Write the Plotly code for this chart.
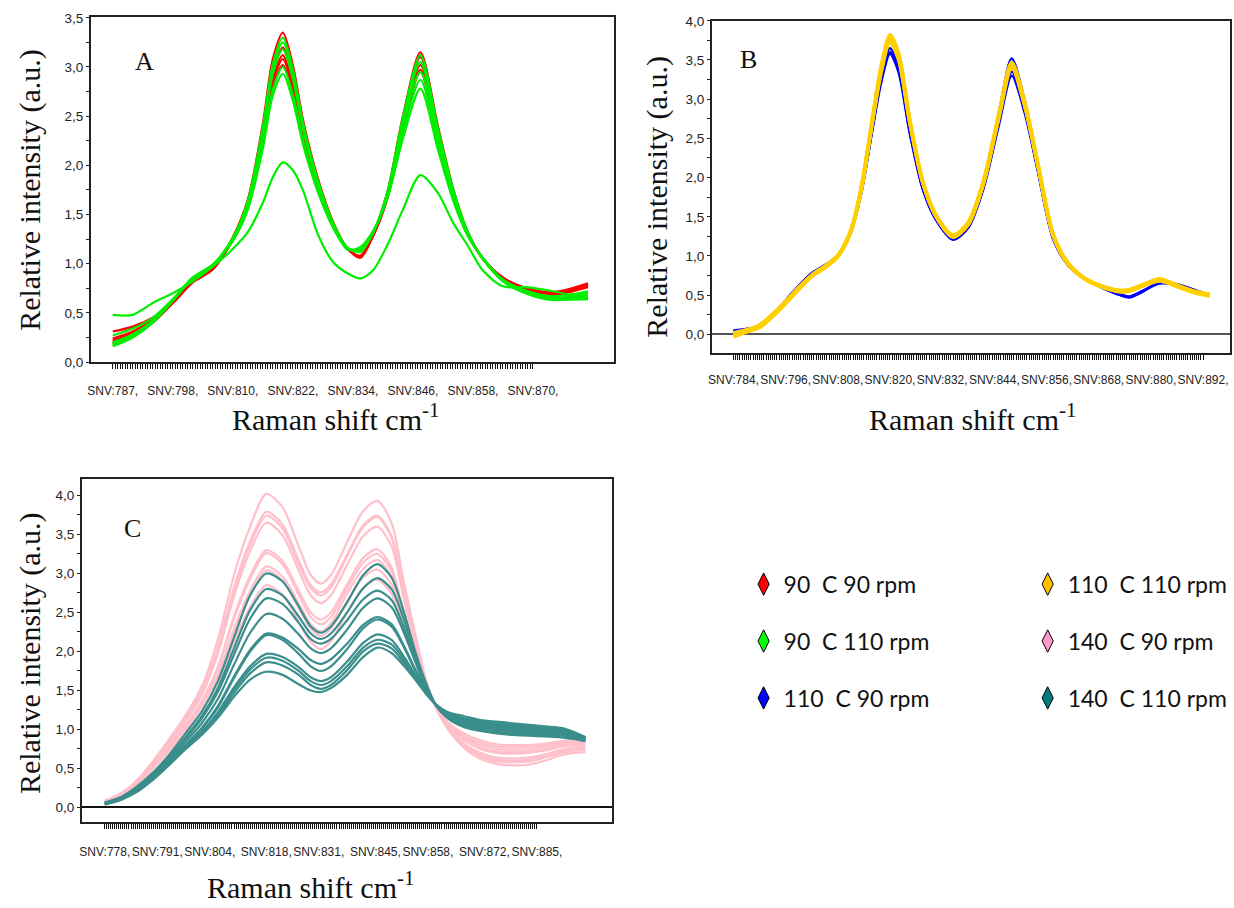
import plotly.graph_objects as go

# ---------------- Panel A data (90 C) ----------------
wn_A = [787, 791, 795, 799, 803, 807, 811, 814, 817, 819, 821, 823, 825, 828, 831, 834, 836.5,
        839, 842, 845, 848.5, 852, 855, 858, 861, 865, 870, 875, 882]
A_90C_90rpm = [
    [0.31, 0.36, 0.45, 0.60, 0.82, 0.95, 1.27, 1.65, 2.42, 3.08, 3.35, 3.02, 2.47, 1.87, 1.43, 1.15, 1.08, 1.29, 1.75, 2.50, 3.15, 2.40, 1.77, 1.32, 1.05, 0.86, 0.74, 0.70, 0.78],
    [0.22, 0.29, 0.41, 0.60, 0.81, 0.94, 1.25, 1.61, 2.33, 2.94, 3.20, 2.89, 2.38, 1.82, 1.41, 1.15, 1.07, 1.29, 1.73, 2.47, 3.10, 2.36, 1.75, 1.31, 1.05, 0.84, 0.73, 0.69, 0.77],
    [0.20, 0.27, 0.40, 0.60, 0.82, 0.95, 1.25, 1.59, 2.28, 2.87, 3.12, 2.82, 2.33, 1.79, 1.40, 1.15, 1.06, 1.28, 1.71, 2.41, 3.02, 2.31, 1.73, 1.30, 1.05, 0.85, 0.75, 0.71, 0.80],
    [0.18, 0.26, 0.40, 0.61, 0.83, 0.96, 1.24, 1.58, 2.26, 2.84, 3.08, 2.79, 2.31, 1.78, 1.39, 1.15, 1.07, 1.28, 1.69, 2.38, 2.97, 2.28, 1.71, 1.30, 1.05, 0.84, 0.72, 0.68, 0.76],
    [0.24, 0.31, 0.43, 0.62, 0.82, 0.95, 1.24, 1.57, 2.22, 2.79, 3.02, 2.74, 2.27, 1.76, 1.38, 1.15, 1.08, 1.28, 1.68, 2.37, 2.95, 2.27, 1.70, 1.29, 1.05, 0.85, 0.74, 0.70, 0.79],
]
A_90C_110rpm = [
    [0.27, 0.34, 0.45, 0.64, 0.85, 0.98, 1.26, 1.64, 2.39, 3.03, 3.30, 2.98, 2.44, 1.85, 1.42, 1.16, 1.12, 1.31, 1.75, 2.49, 3.12, 2.38, 1.77, 1.32, 1.05, 0.84, 0.72, 0.67, 0.72],
    [0.20, 0.28, 0.42, 0.63, 0.85, 0.98, 1.26, 1.62, 2.36, 2.99, 3.25, 2.94, 2.41, 1.83, 1.41, 1.16, 1.13, 1.31, 1.73, 2.45, 3.05, 2.34, 1.75, 1.31, 1.05, 0.83, 0.71, 0.65, 0.70],
    [0.17, 0.26, 0.41, 0.63, 0.86, 0.99, 1.25, 1.61, 2.32, 2.93, 3.18, 2.88, 2.37, 1.81, 1.40, 1.15, 1.14, 1.32, 1.72, 2.41, 2.95, 2.29, 1.73, 1.31, 1.05, 0.83, 0.70, 0.64, 0.68],
    [0.16, 0.25, 0.40, 0.62, 0.85, 0.98, 1.24, 1.56, 2.21, 2.77, 3.00, 2.72, 2.26, 1.75, 1.38, 1.15, 1.15, 1.32, 1.69, 2.33, 2.87, 2.22, 1.68, 1.29, 1.05, 0.82, 0.69, 0.63, 0.66],
    [0.19, 0.28, 0.42, 0.63, 0.86, 0.99, 1.23, 1.55, 2.17, 2.71, 2.93, 2.66, 2.22, 1.73, 1.37, 1.14, 1.17, 1.33, 1.68, 2.27, 2.78, 2.16, 1.65, 1.28, 1.06, 0.83, 0.70, 0.64, 0.64],
    [0.48, 0.48, 0.60, 0.70, 0.82, 0.97, 1.15, 1.32, 1.62, 1.88, 2.03, 1.95, 1.75, 1.30, 1.02, 0.90, 0.85, 0.93, 1.20, 1.55, 1.90, 1.72, 1.42, 1.18, 0.93, 0.77, 0.76, 0.72, 0.64],
]
labels_A = ["SNV:787,", "SNV:798,", "SNV:810,", "SNV:822,", "SNV:834,", "SNV:846,", "SNV:858,", "SNV:870,"]

# ---------------- Panel B data (110 C) ----------------
wn_B = [784, 787, 790, 794, 798, 802, 805, 808, 811, 813.5, 816, 818, 820, 822, 824.5, 827.5, 830.5,
        834.5, 838, 841.5, 845, 848, 851, 854, 857.5, 861, 865, 869, 873, 875, 878, 882, 886, 890, 893.5]
B_110C_90rpm = [
    [0.05, 0.07, 0.11, 0.31, 0.56, 0.78, 0.88, 1.01, 1.31, 1.86, 2.68, 3.30, 3.65, 3.40, 2.62, 1.88, 1.48, 1.22, 1.39, 1.94, 2.82, 3.52, 2.98, 2.17, 1.25, 0.89, 0.70, 0.59, 0.50, 0.48, 0.55, 0.66, 0.63, 0.56, 0.49],
    [0.04, 0.07, 0.10, 0.30, 0.55, 0.78, 0.88, 1.00, 1.30, 1.84, 2.64, 3.25, 3.60, 3.36, 2.60, 1.87, 1.47, 1.21, 1.37, 1.88, 2.70, 3.35, 2.86, 2.10, 1.23, 0.88, 0.70, 0.59, 0.50, 0.47, 0.54, 0.66, 0.64, 0.57, 0.50],
    [0.03, 0.06, 0.10, 0.30, 0.55, 0.77, 0.87, 1.00, 1.30, 1.83, 2.62, 3.22, 3.58, 3.34, 2.58, 1.86, 1.47, 1.21, 1.36, 1.86, 2.66, 3.30, 2.82, 2.08, 1.22, 0.88, 0.70, 0.59, 0.51, 0.48, 0.55, 0.65, 0.63, 0.56, 0.50],
]
B_110C_110rpm = [
    [-0.03, 0.03, 0.09, 0.29, 0.52, 0.74, 0.85, 0.99, 1.31, 1.90, 2.77, 3.43, 3.82, 3.58, 2.76, 1.96, 1.53, 1.26, 1.42, 1.95, 2.80, 3.47, 2.96, 2.18, 1.28, 0.90, 0.70, 0.60, 0.55, 0.56, 0.62, 0.70, 0.62, 0.54, 0.50],
    [0.00, 0.05, 0.10, 0.30, 0.53, 0.75, 0.86, 1.00, 1.32, 1.89, 2.75, 3.40, 3.79, 3.55, 2.74, 1.95, 1.52, 1.25, 1.41, 1.94, 2.78, 3.44, 2.94, 2.17, 1.27, 0.90, 0.71, 0.61, 0.56, 0.57, 0.63, 0.70, 0.62, 0.55, 0.51],
    [0.02, 0.06, 0.12, 0.31, 0.54, 0.76, 0.87, 1.01, 1.33, 1.88, 2.73, 3.37, 3.76, 3.52, 2.72, 1.94, 1.51, 1.24, 1.40, 1.93, 2.77, 3.42, 2.92, 2.16, 1.26, 0.89, 0.70, 0.60, 0.54, 0.55, 0.61, 0.68, 0.61, 0.53, 0.49],
    [-0.01, 0.04, 0.09, 0.28, 0.51, 0.74, 0.85, 0.99, 1.31, 1.87, 2.72, 3.35, 3.73, 3.50, 2.72, 1.95, 1.53, 1.27, 1.43, 1.96, 2.79, 3.45, 2.95, 2.18, 1.28, 0.91, 0.71, 0.61, 0.56, 0.57, 0.63, 0.71, 0.63, 0.55, 0.51],
    [0.01, 0.05, 0.11, 0.30, 0.53, 0.75, 0.86, 1.00, 1.32, 1.91, 2.76, 3.41, 3.80, 3.56, 2.75, 1.96, 1.52, 1.26, 1.41, 1.92, 2.75, 3.40, 2.91, 2.15, 1.27, 0.90, 0.70, 0.60, 0.55, 0.56, 0.62, 0.69, 0.61, 0.54, 0.50],
]
labels_B = ["SNV:784,", "SNV:796,", "SNV:808,", "SNV:820,", "SNV:832,", "SNV:844,", "SNV:856,", "SNV:868,", "SNV:880,", "SNV:892,"]

# ---------------- Panel C data (140 C) ----------------
wn_C = [778, 782, 786, 790, 794, 798, 802, 806, 810, 814, 818, 822, 826, 829, 831.5, 834, 838, 842, 845.5,
        849, 852, 855, 857.5, 860, 863, 867, 871, 875, 879, 883, 887, 891, 894, 897]
C_140C_90rpm = [
    [0.08, 0.18, 0.35, 0.60, 0.88, 1.18, 1.55, 2.15, 2.98, 3.60, 4.02, 3.85, 3.35, 2.98, 2.87, 2.98, 3.40, 3.80, 3.93, 3.65, 2.90, 2.20, 1.65, 1.28, 1.00, 0.76, 0.62, 0.56, 0.54, 0.55, 0.60, 0.67, 0.70, 0.71],
    [0.08, 0.17, 0.34, 0.58, 0.85, 1.14, 1.49, 2.05, 2.82, 3.41, 3.79, 3.63, 3.17, 2.85, 2.76, 2.86, 3.24, 3.62, 3.74, 3.48, 2.78, 2.13, 1.62, 1.28, 1.01, 0.78, 0.65, 0.59, 0.58, 0.59, 0.64, 0.70, 0.73, 0.74],
    [0.07, 0.16, 0.33, 0.57, 0.84, 1.13, 1.47, 2.02, 2.78, 3.37, 3.74, 3.58, 3.12, 2.81, 2.72, 2.82, 3.22, 3.60, 3.72, 3.46, 2.76, 2.12, 1.61, 1.28, 1.02, 0.80, 0.67, 0.61, 0.60, 0.61, 0.66, 0.72, 0.75, 0.76],
    [0.08, 0.17, 0.33, 0.56, 0.82, 1.10, 1.44, 1.97, 2.71, 3.29, 3.65, 3.49, 3.04, 2.72, 2.62, 2.72, 3.11, 3.48, 3.60, 3.35, 2.68, 2.08, 1.60, 1.28, 1.03, 0.82, 0.70, 0.64, 0.63, 0.64, 0.68, 0.74, 0.77, 0.78],
    [0.07, 0.16, 0.32, 0.54, 0.78, 1.04, 1.35, 1.80, 2.45, 2.97, 3.30, 3.16, 2.78, 2.50, 2.41, 2.50, 2.86, 3.20, 3.31, 3.08, 2.50, 1.98, 1.57, 1.29, 1.05, 0.86, 0.75, 0.70, 0.69, 0.70, 0.73, 0.78, 0.80, 0.80],
    [0.09, 0.18, 0.34, 0.55, 0.79, 1.05, 1.36, 1.79, 2.42, 2.93, 3.26, 3.12, 2.73, 2.44, 2.35, 2.44, 2.81, 3.14, 3.25, 3.03, 2.46, 1.96, 1.56, 1.29, 1.06, 0.88, 0.77, 0.72, 0.71, 0.72, 0.75, 0.80, 0.82, 0.82],
    [0.07, 0.15, 0.31, 0.52, 0.76, 1.01, 1.31, 1.71, 2.29, 2.78, 3.09, 2.96, 2.62, 2.35, 2.26, 2.36, 2.74, 3.06, 3.17, 2.96, 2.42, 1.93, 1.55, 1.29, 1.07, 0.90, 0.80, 0.75, 0.74, 0.75, 0.78, 0.82, 0.84, 0.84],
    [0.08, 0.17, 0.32, 0.53, 0.76, 1.00, 1.30, 1.69, 2.26, 2.74, 3.04, 2.91, 2.56, 2.29, 2.20, 2.29, 2.64, 2.95, 3.05, 2.86, 2.36, 1.90, 1.54, 1.29, 1.08, 0.92, 0.83, 0.78, 0.77, 0.78, 0.80, 0.84, 0.85, 0.85],
    [0.07, 0.15, 0.30, 0.50, 0.73, 0.96, 1.23, 1.60, 2.12, 2.57, 2.85, 2.73, 2.38, 2.12, 2.03, 2.13, 2.50, 2.82, 2.92, 2.74, 2.28, 1.86, 1.52, 1.29, 1.09, 0.95, 0.86, 0.81, 0.80, 0.80, 0.82, 0.85, 0.86, 0.86],
]
C_140C_110rpm = [
    [0.06, 0.13, 0.27, 0.45, 0.68, 0.95, 1.23, 1.62, 2.18, 2.72, 3.00, 2.90, 2.58, 2.32, 2.24, 2.32, 2.63, 2.98, 3.12, 2.95, 2.52, 1.98, 1.60, 1.31, 1.14, 1.03, 0.98, 0.95, 0.93, 0.92, 0.91, 0.90, 0.88, 0.85],
    [0.05, 0.12, 0.25, 0.43, 0.65, 0.90, 1.17, 1.53, 2.04, 2.53, 2.80, 2.72, 2.45, 2.23, 2.16, 2.23, 2.50, 2.81, 2.94, 2.80, 2.42, 1.93, 1.58, 1.31, 1.15, 1.05, 1.00, 0.97, 0.95, 0.94, 0.93, 0.92, 0.89, 0.86],
    [0.06, 0.13, 0.26, 0.43, 0.64, 0.88, 1.14, 1.48, 1.96, 2.42, 2.68, 2.61, 2.37, 2.16, 2.10, 2.16, 2.40, 2.67, 2.78, 2.66, 2.32, 1.88, 1.56, 1.31, 1.16, 1.07, 1.02, 0.99, 0.97, 0.96, 0.95, 0.93, 0.90, 0.87],
    [0.05, 0.12, 0.24, 0.41, 0.61, 0.84, 1.08, 1.39, 1.83, 2.24, 2.48, 2.42, 2.22, 2.04, 1.98, 2.04, 2.28, 2.56, 2.68, 2.57, 2.25, 1.85, 1.54, 1.31, 1.17, 1.08, 1.04, 1.01, 0.99, 0.97, 0.96, 0.94, 0.91, 0.88],
    [0.05, 0.11, 0.23, 0.39, 0.59, 0.80, 1.02, 1.30, 1.68, 2.02, 2.23, 2.18, 2.03, 1.89, 1.84, 1.90, 2.10, 2.34, 2.44, 2.35, 2.08, 1.76, 1.51, 1.32, 1.19, 1.10, 1.06, 1.03, 1.01, 0.99, 0.98, 0.96, 0.93, 0.89],
    [0.06, 0.12, 0.23, 0.39, 0.58, 0.79, 1.01, 1.28, 1.66, 2.00, 2.21, 2.15, 1.97, 1.81, 1.75, 1.81, 2.03, 2.30, 2.41, 2.32, 2.06, 1.74, 1.50, 1.32, 1.19, 1.11, 1.07, 1.04, 1.02, 1.00, 0.99, 0.97, 0.93, 0.88],
    [0.04, 0.10, 0.21, 0.37, 0.56, 0.77, 0.97, 1.22, 1.54, 1.81, 1.97, 1.93, 1.80, 1.67, 1.62, 1.67, 1.87, 2.11, 2.22, 2.15, 1.94, 1.69, 1.48, 1.32, 1.20, 1.13, 1.09, 1.06, 1.04, 1.02, 1.00, 0.98, 0.94, 0.89],
    [0.05, 0.11, 0.22, 0.37, 0.56, 0.76, 0.96, 1.20, 1.51, 1.77, 1.92, 1.88, 1.75, 1.62, 1.57, 1.62, 1.81, 2.05, 2.15, 2.09, 1.90, 1.67, 1.47, 1.32, 1.21, 1.14, 1.10, 1.07, 1.05, 1.03, 1.01, 0.99, 0.95, 0.90],
    [0.04, 0.10, 0.21, 0.36, 0.55, 0.75, 0.94, 1.17, 1.47, 1.72, 1.86, 1.82, 1.70, 1.57, 1.52, 1.57, 1.76, 2.00, 2.10, 2.04, 1.86, 1.65, 1.46, 1.32, 1.21, 1.14, 1.11, 1.08, 1.06, 1.04, 1.02, 1.00, 0.96, 0.90],
    [0.04, 0.10, 0.20, 0.36, 0.55, 0.75, 0.93, 1.15, 1.42, 1.64, 1.74, 1.70, 1.58, 1.50, 1.48, 1.53, 1.70, 1.93, 2.05, 1.98, 1.82, 1.63, 1.46, 1.32, 1.22, 1.17, 1.12, 1.10, 1.08, 1.06, 1.04, 1.02, 0.97, 0.90],
]
labels_C = ["SNV:778,", "SNV:791,", "SNV:804,", "SNV:818,", "SNV:831,", "SNV:845,", "SNV:858,", "SNV:872,", "SNV:885,"]
label_pos_C = [778, 791, 804, 818, 831, 845, 858, 872, 885]

legend_names = ["90\u00a0\u00a0C 90 rpm", "90\u00a0\u00a0C 110 rpm", "110\u00a0\u00a0C 90 rpm",
                "110\u00a0\u00a0C 110 rpm", "140\u00a0\u00a0C 90 rpm", "140\u00a0\u00a0C 110 rpm"]
legend_colors = ["#FF0000", "#00FF00", "#0000FF", "#FFC000", "#FF99CC", "#007B7B"]

for grp, wn in [(A_90C_90rpm, wn_A), (A_90C_110rpm, wn_A), (B_110C_90rpm, wn_B),
                (B_110C_110rpm, wn_B), (C_140C_90rpm, wn_C), (C_140C_110rpm, wn_C)]:
    for s in grp:
        assert len(s) == len(wn)

W, H = 1234, 908
def fx(p):
    return p / W
def fy(p):
    return 1 - p / H

fig = go.Figure()

def add_group(group, wn, color, width, xa, ya):
    for s in group:
        fig.add_trace(go.Scatter(x=wn, y=s, mode="lines", xaxis=xa, yaxis=ya,
                                 line=dict(color=color, width=width, shape="spline", smoothing=0.8),
                                 showlegend=False, hoverinfo="skip"))

add_group(A_90C_90rpm, wn_A, "#FF0000", 2.2, "x", "y")
add_group(A_90C_110rpm, wn_A, "#00EE00", 2.2, "x", "y")
add_group(B_110C_90rpm, wn_B, "#0000FF", 2.5, "x2", "y2")
add_group(B_110C_110rpm, wn_B, "#FFD000", 3.6, "x2", "y2")
add_group(C_140C_90rpm, wn_C, "#FFC0CB", 2.2, "x3", "y3")
add_group(C_140C_110rpm, wn_C, "#3A8E8B", 2.2, "x3", "y3")

# legend entries (diamonds)
for i, (nm, col) in enumerate(zip(legend_names, legend_colors)):
    fig.add_trace(go.Scatter(x=[None], y=[None], mode="markers", name=nm,
                             marker=dict(symbol="diamond-tall", size=16, color=col,
                                         line=dict(color="black", width=1)),
                             legend="legend" if i < 3 else "legend2",
                             legendgroup="g%d" % i, showlegend=True))

tickfont = dict(family="Liberation Sans, Arial, sans-serif", size=12, color="#222")
ytickfont = dict(family="Liberation Sans, Arial, sans-serif", size=13.5, color="#222")

def hatch(first, last):
    n = int(round((last - first) / 0.5))
    return [first + 0.5 * i for i in range(n + 1)]

def xaxis_cfg(dom, rng, tvals, ttext, anchor, standoff):
    return dict(domain=dom, range=rng, anchor=anchor, showline=True, mirror=True,
                linecolor="#222", linewidth=1.5, ticks="outside", ticklen=5, tickwidth=1,
                tickcolor="#111", tickvals=tvals, ticktext=ttext, tickfont=tickfont,
                ticklabelstandoff=standoff, tickangle=0,
                showgrid=False, zeroline=False, fixedrange=True)

def yaxis_cfg(dom, rng, anchor, zl, zlc, zlw):
    return dict(domain=dom, range=rng, anchor=anchor, showline=True, mirror=True,
                linecolor="#222", linewidth=1.5, ticks="outside", ticklen=3, tickcolor="#222",
                tick0=0, dtick=0.5, tickformat=".1f", tickfont=ytickfont,
                minor=dict(dtick=0.25, ticks="outside", ticklen=3, tickcolor="#222", showgrid=False),
                showgrid=False, zeroline=zl, zerolinecolor=zlc, zerolinewidth=zlw, fixedrange=True)

# panel A ticks
tv_A = hatch(787, 871)
tt_A = [""] * len(tv_A)
for k, lab in enumerate(labels_A):
    tt_A[k * 24] = lab
# panel B ticks
tv_B = hatch(784, 892)
tt_B = [""] * len(tv_B)
for k, lab in enumerate(labels_B):
    tt_B[k * 24] = lab
# panel C ticks
tv_C = hatch(778, 885)
tt_C = [""] * len(tv_C)
for pos, lab in zip(label_pos_C, labels_C):
    tt_C[int(round((pos - 778) / 0.5))] = lab

legend_font = dict(family="Lato, Open Sans, sans-serif", size=23, color="#111")
fig.update_layout(
    width=W, height=H, margin=dict(l=0, r=0, t=0, b=0),
    paper_bgcolor="white", plot_bgcolor="white", separators=",.",
    xaxis=xaxis_cfg([fx(87), fx(612)], [782.6, 887.2], tv_A, tt_A, "y", 12),
    yaxis=yaxis_cfg([fy(361), fy(10)], [0, 3.51], "x", False, "#222", 1),
    xaxis2=xaxis_cfg([fx(710), fx(1230)], [779.0, 898.2], tv_B, tt_B, "y2", 10),
    yaxis2=yaxis_cfg([fy(352), fy(14)], [-0.24, 4.0], "x2", True, "#555", 2),
    xaxis3=xaxis_cfg([fx(78), fx(610)], [772.3, 903.6], tv_C, tt_C, "y3", 13),
    yaxis3=yaxis_cfg([fy(829), fy(480)], [-0.19, 4.21], "x3", True, "#111", 1.5),
    legend=dict(x=fx(742), y=fy(565), xanchor="left", yanchor="top", tracegroupgap=24,
                font=legend_font, bgcolor="rgba(0,0,0,0)", itemclick=False, itemdoubleclick=False),
    legend2=dict(x=fx(1027), y=fy(565), xanchor="left", yanchor="top", tracegroupgap=24,
                 font=legend_font, bgcolor="rgba(0,0,0,0)", itemclick=False, itemdoubleclick=False),
)

serif = "Liberation Serif, Times New Roman, serif"
ann = []
def add_text(txt, xp, yp, size, angle=0):
    ann.append(dict(text=txt, x=fx(xp), y=fy(yp), xref="paper", yref="paper", showarrow=False,
                    xanchor="center", yanchor="middle", textangle=angle,
                    font=dict(family=serif, size=size, color="#111")))

add_text("Relative intensity (a.u.)", 26, 186, 30, -90)
add_text("Raman shift cm<sup>-1</sup>", 333, 417, 30)
add_text("A", 141, 55, 26)
add_text("Relative intensity (a.u.)", 655, 193, 30, -90)
add_text("Raman shift cm<sup>-1</sup>", 972, 417, 30)
add_text("B", 747, 53, 26)
add_text("Relative intensity (a.u.)", 26, 657, 30, -90)
add_text("Raman shift cm<sup>-1</sup>", 307, 893, 30)
add_text("C", 129, 530, 26)
fig.update_layout(annotations=ann)

fig.write_html("out.html")
